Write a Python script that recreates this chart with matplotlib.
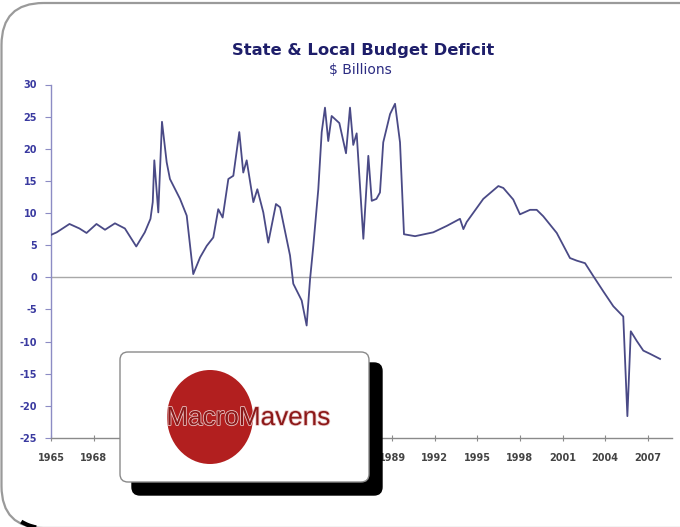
import matplotlib
matplotlib.use("Agg")
import matplotlib.pyplot as plt
import matplotlib.patheffects as pe
from matplotlib.patches import FancyBboxPatch, Ellipse, Arc

# ---- data ----
years = [1965.0, 1965.4, 1966.3, 1967.0, 1967.5, 1968.2, 1968.8, 1969.5,
         1970.2, 1971.0, 1971.6, 1972.0, 1972.16, 1972.27, 1972.55, 1972.81,
         1973.14, 1973.37, 1974.08, 1974.55, 1975.01, 1975.49, 1975.96, 1976.42,
         1976.77, 1977.08, 1977.48, 1977.83, 1978.25, 1978.53, 1978.77, 1979.24,
         1979.52, 1979.94, 1980.29, 1980.83, 1981.12, 1981.82, 1982.05, 1982.64,
         1982.99, 1983.23, 1983.46, 1983.81, 1984.05, 1984.28, 1984.51, 1984.75,
         1985.29, 1985.76, 1986.04, 1986.27, 1986.51, 1986.98, 1987.33, 1987.57,
         1987.9, 1988.15, 1988.38, 1988.86, 1989.21, 1989.56, 1989.84, 1990.62,
         1991.9, 1992.85, 1993.78, 1994.02, 1994.25, 1995.42, 1996.48, 1996.83,
         1997.53, 1998.0, 1998.71, 1999.18, 1999.64, 2000.59, 2001.52, 2001.99,
         2002.58, 2003.16, 2003.87, 2004.57, 2005.27, 2005.56, 2005.8, 2006.22,
         2006.68, 2007.15, 2007.86]
deficit = [6.6, 7.0, 8.3, 7.6, 6.9, 8.3, 7.4, 8.4,
           7.6, 4.8, 7.0, 9.1, 11.7, 18.2, 10.1, 24.2,
           17.9, 15.3, 12.2, 9.6, 0.5, 3.1, 4.9, 6.2,
           10.6, 9.3, 15.3, 15.8, 22.6, 16.3, 18.2, 11.7,
           13.7, 10.1, 5.4, 11.4, 10.9, 3.4, -1.0, -3.6,
           -7.5, -0.3, 4.9, 13.7, 22.6, 26.4, 21.2, 25.1,
           24.0, 19.3, 26.4, 20.6, 22.4, 6.0, 18.9, 11.9,
           12.2, 13.2, 21.0, 25.4, 27.0, 21.0, 6.7, 6.4,
           7.0, 8.0, 9.1, 7.5, 8.6, 12.2, 14.2, 13.9,
           12.1, 9.8, 10.5, 10.5, 9.5, 6.9, 3.0, 2.6,
           2.2, 0.2, -2.2, -4.5, -6.1, -21.6, -8.4, -9.9,
           -11.4, -11.9, -12.7]

x_ticks = list(range(1965, 2008, 3))
y_ticks = list(range(-25, 31, 5))

title = "State & Local Budget Deficit"
subtitle = "$ Billions"
logo_text = "MacroMavens"

W, H = 680, 527
fig = plt.figure(figsize=(W / 100, H / 100), dpi=100)
fig.patch.set_facecolor("white")

# ---- main chart ----
ax = fig.add_axes([51 / W, 1 - 438 / H, (672 - 51) / W, (438 - 84.5) / H])
ax.plot(years, deficit, color="#4a4a86", lw=1.3, solid_joinstyle="round", zorder=3)
ax.axhline(0, color="#a8a8a8", lw=1.0, zorder=2)
ax.set_xlim(1965, 2008.7)
ax.set_ylim(-25, 30)
ax.set_xticks(x_ticks)
ax.set_yticks(y_ticks)
ax.set_xticklabels([str(t) for t in x_ticks], fontsize=7, fontweight="bold", color="#444444")
ax.set_yticklabels([str(t) for t in y_ticks], fontsize=7, fontweight="bold", color="#3a3aa0")
for s in ("top", "right"):
    ax.spines[s].set_visible(False)
ax.spines["left"].set_color("#8c8cc4")
ax.spines["left"].set_linewidth(1.0)
ax.spines["bottom"].set_color("#8a8a8a")
ax.spines["bottom"].set_linewidth(1.0)
ax.tick_params(axis="y", direction="out", length=4, width=0.8, color="#8c8cc4", pad=6)
ax.tick_params(axis="x", direction="inout", length=4, width=0.8, color="#8a8a8a", pad=9)
ax.set_facecolor("white")

# ---- overlay in pixel coordinates ----
ov = fig.add_axes([0, 0, 1, 1], zorder=10)
ov.set_xlim(0, W)
ov.set_ylim(H, 0)
ov.axis("off")
ov.patch.set_alpha(0)

# slide frame
frame = FancyBboxPatch((1.5, 3), 900, 525, boxstyle="round,pad=0,rounding_size=42",
                       fc="none", ec="#9a9a9a", lw=1.6, clip_on=False)
ov.add_patch(frame)
ov.add_patch(Arc((43.5, 486), 84, 84, theta1=100, theta2=122, color="black", lw=3))

# title
ov.text(363.5, 51, title, ha="center", va="center", fontsize=11.8,
        fontweight="bold", color="#1e1e6a", family="DejaVu Sans")
ov.text(360, 70, subtitle, ha="center", va="center", fontsize=10,
        color="#2c2c82", family="DejaVu Sans")

# logo box with shadow
ov.add_patch(FancyBboxPatch((132, 363), 250, 132, boxstyle="round,pad=0,rounding_size=8",
                            fc="black", ec="black", lw=1))
ov.add_patch(FancyBboxPatch((120, 352), 249, 130, boxstyle="round,pad=0,rounding_size=8",
                            fc="white", ec="#8a8a8a", lw=1))
ov.add_patch(Ellipse((210, 417), 86, 94, fc="#b21f1f", ec="none"))
ov.text(248.5, 418, logo_text, ha="center", va="center", fontsize=18.8,
        color="#8c1818", family=["Liberation Sans", "DejaVu Sans"],
        path_effects=[pe.withStroke(linewidth=1.2, foreground="#e8c4c4")])

fig.savefig("out.png", dpi=100, facecolor="white")
